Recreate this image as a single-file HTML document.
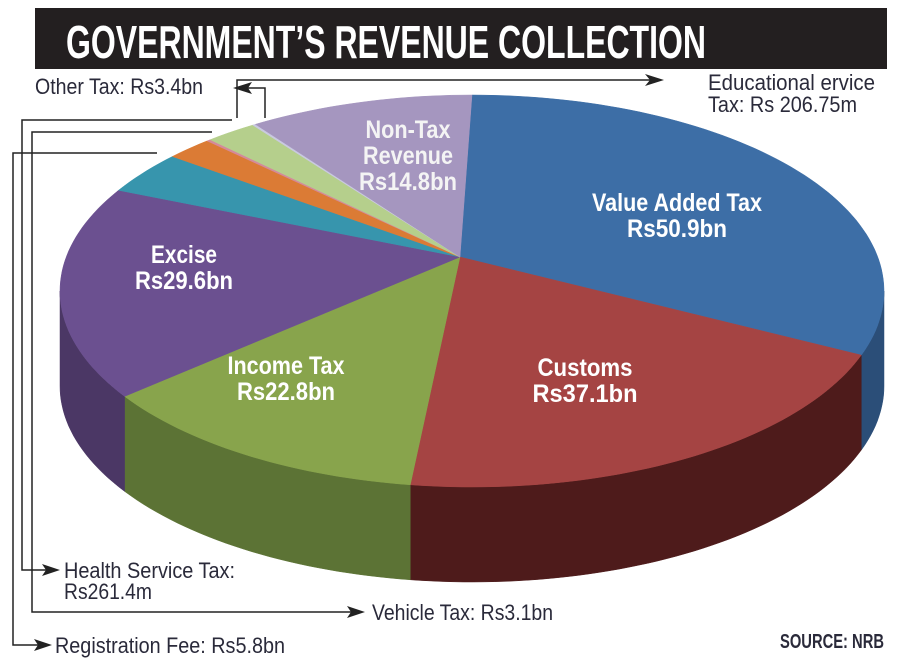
<!DOCTYPE html>
<html><head><meta charset="utf-8"><style>
html,body{margin:0;padding:0;background:#fff}
svg{display:block}
text{font-family:"Liberation Sans Narrow","Liberation Sans",sans-serif}
</style></head><body>
<svg id="chart" width="900" height="667" viewBox="0 0 900 667">
<rect x="35" y="8" width="852" height="61" fill="#231f20"/>
<text x="66" y="58" fill="#fff" font-size="46" font-weight="bold" textLength="640" lengthAdjust="spacingAndGlyphs">GOVERNMENT’S REVENUE COLLECTION</text>
<g id="sides"></g>
<g id="tops"></g>
<g id="labels" fill="#fff" font-size="25" font-weight="bold"></g>
<g fill="none" stroke="#222" stroke-width="1.5">
<polyline points="237,118 237,80 650,80"/>
<polyline points="265,118 265,88 245,88"/>
<polyline points="232,120 22,120 22,570 48,570"/>
<polyline points="212,132 32,132 32,612 352,612"/>
<polyline points="157,153 13,153 13,645 40,645"/>
</g>
<g fill="#222">
<polygon points="664,80 645,74 650,80 645,86"/>
<polygon points="233,88 252,82 248,88 252,94"/>
<polygon points="60,570 42,564 46,570 42,576"/>
<polygon points="365,612 347,606 351,612 347,618"/>
<polygon points="52,645 34,639 38,645 34,651"/>
</g>
<g fill="#2a2a3a" font-size="22">
<text x="35" y="94" textLength="168" lengthAdjust="spacingAndGlyphs">Other Tax: Rs3.4bn</text>
<text x="708" y="90" textLength="167" lengthAdjust="spacingAndGlyphs">Educational ervice</text>
<text x="708" y="112" textLength="149" lengthAdjust="spacingAndGlyphs">Tax: Rs 206.75m</text>
<text x="64" y="578" textLength="171" lengthAdjust="spacingAndGlyphs">Health Service Tax:</text>
<text x="64" y="599" textLength="88" lengthAdjust="spacingAndGlyphs">Rs261.4m</text>
<text x="372" y="620" textLength="181" lengthAdjust="spacingAndGlyphs">Vehicle Tax: Rs3.1bn</text>
<text x="55" y="653" textLength="230" lengthAdjust="spacingAndGlyphs">Registration Fee: Rs5.8bn</text>
<text x="780" y="648" font-weight="bold" font-size="20" textLength="104" lengthAdjust="spacingAndGlyphs">SOURCE: NRB</text>
</g>
</svg>
<script>
const categories=["Value Added Tax","Customs","Income Tax","Excise","Registration Fee","Vehicle Tax","Health Service Tax","Other Tax","Educational Service Tax","Non-Tax Revenue"];
const values=[50.9,37.1,22.8,29.6,5.8,3.1,0.2614,3.4,0.20675,14.8];
const valueLabels=["Rs50.9bn","Rs37.1bn","Rs22.8bn","Rs29.6bn","","","","","","Rs14.8bn"];
const topColors=["#3d6ea6","#a54443","#88a44c","#6b5090","#3795ad","#db7b35","#d48a9a","#b5cf8c","#c9c9e0","#a596bf"];
const sideColors=["#2b4e78","#4e1b1b","#5c7335","#4b3765","#276a7a","#9b5625","#955f6c","#7f9262","#8c8ca0","#74699a"];
const cx=472,cy=291,rx=412,ry=196,ax=460,ay=257,depth=95;
const total=values.reduce((a,b)=>a+b,0);
const ns="http://www.w3.org/2000/svg";
function pt(deg,dy){const r=deg*Math.PI/180;return [cx+rx*Math.cos(r),cy+ry*Math.sin(r)+(dy||0)];}
function arcPath(a0,a1,dy){let d="";const n=Math.max(2,Math.ceil(Math.abs(a1-a0)/1.5));for(let i=0;i<=n;i++){const p=pt(a0+(a1-a0)*i/n,dy);d+=(i?"L":"")+p[0].toFixed(1)+","+p[1].toFixed(1);}return d;}
const sides=document.getElementById('sides'),tops=document.getElementById('tops'),labels=document.getElementById('labels');
let a=-90;
const labelPos=[[677,215],[585,380],[286,378],[184,267],null,null,null,null,null,[408,155]];
const labelWidths=[[170,100],[95,105],[117,98],[66,98],null,null,null,null,null,[85,90,98]];
values.forEach((v,i)=>{
  const span=v/total*360;const a0=a,a1=a+span;a=a1;
  const s0=Math.max(a0,0),s1=Math.min(a1,180);
  if(s1>s0){
    const side=document.createElementNS(ns,'path');
    side.setAttribute('d',"M"+arcPath(s0,s1,0)+"L"+arcPath(s1,s0,depth)+"Z");
    side.setAttribute('fill',sideColors[i]);
    side.setAttribute('stroke',sideColors[i]);
    side.setAttribute('stroke-width','0.5');
    
    
    sides.appendChild(side);
  }
  const path=document.createElementNS(ns,'path');
  path.setAttribute('d',"M"+ax+","+ay+"L"+arcPath(a0,a1,0)+"Z");
  path.setAttribute('fill',topColors[i]);
  path.setAttribute('stroke',topColors[i]);
  path.setAttribute('stroke-width','0.5');
  
  
  tops.appendChild(path);
  if(labelPos[i]){
    const lines=i===9?["Non-Tax","Revenue",valueLabels[i]]:[categories[i],valueLabels[i]];
    const lp=labelPos[i];
    lines.forEach((ln,k)=>{
      const t=document.createElementNS(ns,'text');
      const w=labelWidths[i][k];
      t.setAttribute('x',lp[0]-w/2);
      t.setAttribute('y',lp[1]+k*26-(lines.length-1)*13+9);
      t.setAttribute('textLength',w);
      t.setAttribute('lengthAdjust','spacingAndGlyphs');
      t.setAttribute('fill', i===9?'#f4f4f4':'#fff');
      t.textContent=ln;
      
      
      labels.appendChild(t);
    });
  }
});
</script>
</body></html>
